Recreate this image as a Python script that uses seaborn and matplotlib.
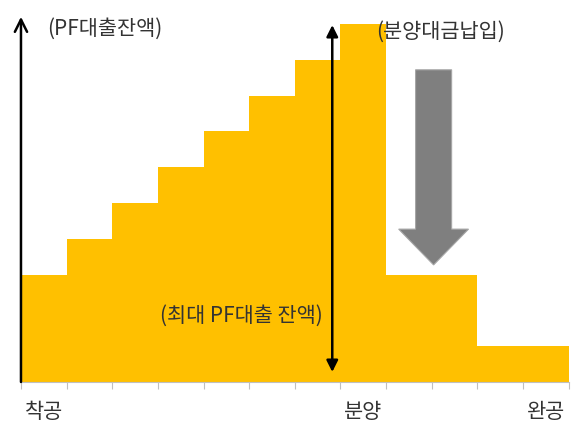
import numpy as np
import pandas as pd
import matplotlib
matplotlib.use("Agg")
import matplotlib.pyplot as plt
import seaborn as sns

# 단계별 PF 대출잔액 (상대 단위)
periods = list(range(12))
balance = [3, 4, 5, 6, 7, 8, 9, 10, 3, 3, 1, 1]
tick_pos = [0, 7, 11]
tick_labels = ["착공", "분양", "완공"]

sns.set_theme(style="white")
plt.rcParams["font.family"] = ["Noto Sans CJK KR", "DejaVu Sans"]

df = pd.DataFrame({"period": periods, "balance": balance})

fig = plt.figure(figsize=(5.73, 4.25), dpi=100)
ax = fig.add_axes([0.0366, 0.1012, 0.9559, 0.8988])

sns.barplot(data=df, x="period", y="balance", color="#FFC000", saturation=1,
            width=1.0, linewidth=0, ax=ax, native_scale=False)

ax.set_xlim(-0.5, 11.5)
ax.set_ylim(0, 10.67)
ax.set_xlabel("")
ax.set_ylabel("")
ax.set_yticks([])

# x axis: labels at centers, small ticks at bin edges
ax.set_xticks(tick_pos)
ax.set_xticklabels(tick_labels, fontsize=15, color="#333333")
ax.tick_params(axis="x", which="major", length=0, pad=14)
ax.set_xticks(np.arange(-0.5, 12, 1), minor=True)
ax.tick_params(axis="x", which="minor", length=5, width=0.8, color="#bfbfbf",
               bottom=True)

for s in ["top", "right", "left"]:
    ax.spines[s].set_visible(False)
ax.spines["bottom"].set_color("#bfbfbf")
ax.spines["bottom"].set_linewidth(0.8)

# y axis arrow
ax.annotate("", xy=(-0.5, 10.2), xytext=(-0.5, 0),
            arrowprops=dict(arrowstyle="->", color="black", lw=1.8,
                            mutation_scale=22, shrinkA=0, shrinkB=0),
            annotation_clip=False)
ax.text(1.33, 9.86, "(PF대출잔액)", fontsize=15, color="#333333",
        ha="center", va="center")

# max PF balance double arrow
ax.annotate("", xy=(6.32, 9.97), xytext=(6.32, 0.28),
            arrowprops=dict(arrowstyle="<|-|>", color="black", lw=1.8,
                            mutation_scale=17, shrinkA=0, shrinkB=0))
ax.text(4.32, 1.84, "(최대 PF대출 잔액)", fontsize=15, color="#333333",
        ha="center", va="center")

# sales proceeds arrow
ax.arrow(8.54, 8.72, 0, -5.45, width=0.79, head_width=1.53, head_length=1.0,
         length_includes_head=True, fc="#7f7f7f", ec="#a6a6a6", lw=0.8)
ax.text(8.69, 9.78, "(분양대금납입)", fontsize=15, color="#333333",
        ha="center", va="center")

fig.savefig("out.png", dpi=100)
